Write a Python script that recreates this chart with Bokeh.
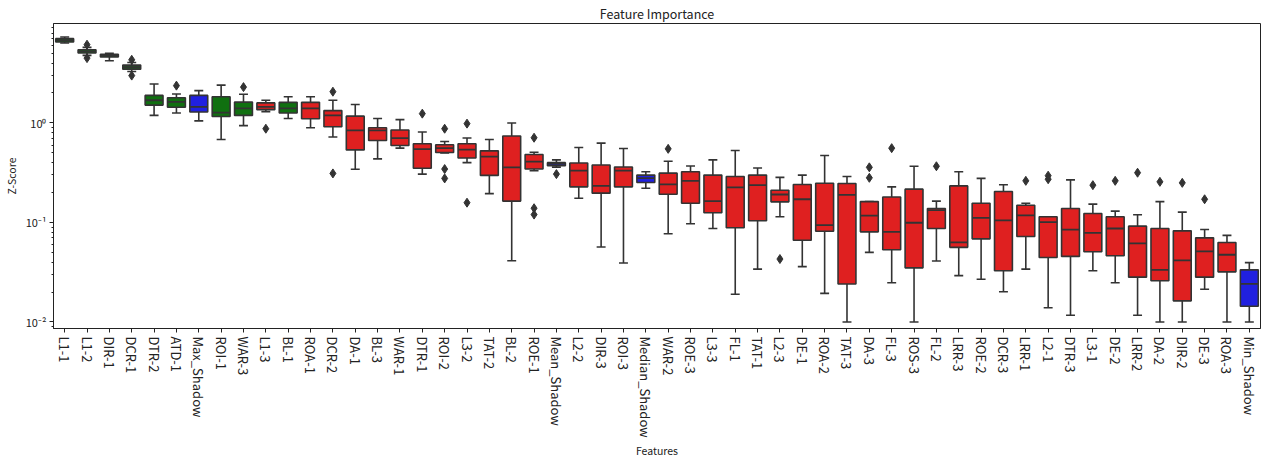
from bokeh.plotting import figure
from bokeh.models import FactorRange, Range1d, FixedTicker, ColumnDataSource, Title
from bokeh.embed import file_html
from bokeh.resources import INLINE

features = ["L1-1", "L1-2", "DIR-1", "DCR-1", "DTR-2", "ATD-1", "Max_Shadow", "ROI-1", "WAR-3",
            "L1-3", "BL-1", "ROA-1", "DCR-2", "DA-1", "BL-3", "WAR-1", "DTR-1", "ROI-2", "L3-2",
            "TAT-2", "BL-2", "ROE-1", "Mean_Shadow", "L2-2", "DIR-3", "ROI-3", "Median_Shadow",
            "WAR-2", "ROE-3", "L3-3", "FL-1", "TAT-1", "L2-3", "DE-1", "ROA-2", "TAT-3", "DA-3",
            "FL-3", "ROS-3", "FL-2", "LRR-3", "ROE-2", "DCR-3", "LRR-1", "L2-1", "DTR-3", "L3-1",
            "DE-2", "LRR-2", "DA-2", "DIR-2", "DE-3", "ROA-3", "Min_Shadow"]

status = ["confirmed"] * 6 + ["shadow", "confirmed", "confirmed", "rejected", "confirmed"] + \
         ["rejected"] * 11 + ["shadow", "rejected", "rejected", "rejected", "shadow"] + \
         ["rejected"] * 26 + ["shadow"]

lower_whisker = [6.36, 4.77, 4.21, 3.29, 1.19, 1.26, 1.05, 0.682, 0.94, 1.30, 1.11, 0.896, 0.721,
                 0.342, 0.435, 0.558, 0.306, 0.50, 0.399, 0.195, 0.0412, 0.331, 0.36, 0.175, 0.0567,
                 0.0391, 0.221, 0.0769, 0.097, 0.087, 0.019, 0.034, 0.114, 0.036, 0.0194, 0.010,
                 0.050, 0.0248, 0.010, 0.041, 0.0292, 0.0269, 0.0201, 0.034, 0.0139, 0.0117, 0.0327,
                 0.0248, 0.0117, 0.010, 0.010, 0.0213, 0.010, 0.010]
q1 = [6.51, 5.04, 4.59, 3.47, 1.51, 1.44, 1.29, 1.16, 1.19, 1.36, 1.26, 1.10, 0.917,
      0.536, 0.667, 0.593, 0.350, 0.504, 0.445, 0.297, 0.164, 0.344, 0.372, 0.228, 0.197,
      0.228, 0.252, 0.192, 0.156, 0.125, 0.0884, 0.104, 0.161, 0.0662, 0.0817, 0.0241,
      0.0805, 0.0532, 0.035, 0.087, 0.0562, 0.0684, 0.0327, 0.0722, 0.0445, 0.0456, 0.0508,
      0.0463, 0.0282, 0.026, 0.0163, 0.0282, 0.0319, 0.0144]
median = [6.77, 5.24, 4.73, 3.63, 1.69, 1.63, 1.45, 1.27, 1.40, 1.45, 1.40, 1.40, 1.19,
          0.842, 0.842, 0.705, 0.545, 0.558, 0.540, 0.459, 0.358, 0.408, 0.387, 0.331, 0.233,
          0.331, 0.279, 0.241, 0.262, 0.164, 0.225, 0.237, 0.191, 0.171, 0.094, 0.189,
          0.117, 0.0805, 0.0993, 0.133, 0.063, 0.111, 0.105, 0.118, 0.1007, 0.0849, 0.0787,
          0.087, 0.0617, 0.0334, 0.0415, 0.0512, 0.0474, 0.0241]
q3 = [7.03, 5.44, 4.89, 3.81, 1.89, 1.79, 1.89, 1.83, 1.62, 1.59, 1.61, 1.61, 1.33,
      1.17, 0.896, 0.85, 0.617, 0.603, 0.617, 0.524, 0.738, 0.481, 0.399, 0.396, 0.378,
      0.361, 0.299, 0.313, 0.323, 0.299, 0.290, 0.299, 0.211, 0.241, 0.248, 0.246,
      0.162, 0.180, 0.216, 0.138, 0.233, 0.156, 0.205, 0.149, 0.114, 0.138, 0.123,
      0.114, 0.0918, 0.087, 0.0824, 0.070, 0.063, 0.0334]
upper_whisker = [7.31, 5.75, 5.0, 4.05, 2.46, 1.95, 2.11, 2.40, 1.94, 1.69, 1.83, 1.83, 1.69,
                 1.53, 1.11, 1.08, 0.811, 0.651, 0.705, 0.682, 1.0, 0.508, 0.425, 0.566, 0.627,
                 0.553, 0.323, 0.412, 0.369, 0.425, 0.528, 0.352, 0.284, 0.299, 0.470, 0.290,
                 0.162, 0.228, 0.367, 0.164, 0.323, 0.277, 0.239, 0.156, 0.114, 0.268, 0.153,
                 0.130, 0.1195, 0.162, 0.127, 0.0849, 0.0742, 0.0395]

outlier_feature = ["L1-2", "L1-2", "DCR-1", "DCR-1", "ATD-1", "WAR-3", "L1-3", "DCR-2", "DCR-2",
                   "DTR-1", "ROI-2", "ROI-2", "ROI-2", "L3-2", "L3-2", "ROE-1", "ROE-1", "ROE-1",
                   "Mean_Shadow", "WAR-2", "L2-3", "DA-3", "DA-3", "FL-3", "FL-2", "LRR-1",
                   "L2-1", "L2-1", "L3-1", "DE-2", "LRR-2", "DA-2", "DIR-2", "DE-3"]
outlier_value = [6.11, 4.48, 4.31, 2.99, 2.37, 2.29, 0.875, 2.06, 0.311,
                 1.24, 0.875, 0.344, 0.277, 0.984, 0.158, 0.710, 0.139, 0.120,
                 0.306, 0.549, 0.0429, 0.358, 0.281, 0.558, 0.367, 0.262,
                 0.295, 0.272, 0.237, 0.262, 0.316, 0.256, 0.250, 0.171]

palette = {"confirmed": "#107010", "rejected": "#DF2020", "shadow": "#2020DF"}
gray = "#333333"
FONT = "Noto Sans CJK KR"

colors = [palette[s] for s in status]

p = figure(width=1263, height=457, x_range=FactorRange(*features),
           y_axis_type="log", y_range=Range1d(0.0086, 9.98),
           output_backend="svg", toolbar_location=None, title="Feature Importance",
           min_border_left=49, min_border_right=3, min_border_top=18, min_border_bottom=20)

src = ColumnDataSource(dict(
    x=features,
    xl=[(f, -0.2) for f in features], xr=[(f, 0.2) for f in features],
    xbl=[(f, -0.4) for f in features], xbr=[(f, 0.4) for f in features],
    lo=lower_whisker, q1=q1, med=median, q3=q3, hi=upper_whisker, color=colors))

p.segment(x0="x", y0="q3", x1="x", y1="hi", source=src, line_color=gray, line_width=1.6)
p.segment(x0="x", y0="q1", x1="x", y1="lo", source=src, line_color=gray, line_width=1.6)
p.segment(x0="xl", y0="hi", x1="xr", y1="hi", source=src, line_color=gray, line_width=1.6)
p.segment(x0="xl", y0="lo", x1="xr", y1="lo", source=src, line_color=gray, line_width=1.6)
p.vbar(x="x", width=0.8, bottom="q1", top="q3", source=src, fill_color="color",
       line_color=gray, line_width=1.6)
p.segment(x0="xbl", y0="med", x1="xbr", y1="med", source=src, line_color=gray, line_width=1.8)
p.scatter(x=outlier_feature, y=outlier_value, marker="diamond", size=9,
          fill_color=gray, line_color=gray)

p.xgrid.visible = False
p.ygrid.visible = False
p.outline_line_color = "#222222"
p.outline_line_width = 1

p.title.align = "center"
p.title.text_font = FONT
p.title.text_font_size = "12.5px"
p.title.text_font_style = "normal"
p.title.text_color = "#222222"
p.title.standoff = 2

p.yaxis.ticker = FixedTicker(ticks=[0.01, 0.1, 1.0],
                             minor_ticks=[k * 10.0 ** e for e in (-3, -2, -1, 0) for k in range(2, 10)])
p.yaxis.major_label_overrides = {0.01: "10⁻²", 0.1: "10⁻¹", 1.0: "10⁰"}
p.yaxis.axis_label = "Z-Score"

for ax in (p.xaxis[0], p.yaxis[0]):
    ax.axis_line_color = "#222222"
    ax.major_tick_line_color = "#222222"
    ax.minor_tick_line_color = "#222222"
    ax.major_tick_in = 0
    ax.major_tick_out = 4
    ax.minor_tick_in = 0
    ax.minor_tick_out = 2
    ax.major_label_text_font = FONT
    ax.major_label_text_color = "#222222"
    ax.axis_label_text_font = FONT
    ax.axis_label_text_font_style = "normal"
    ax.axis_label_text_font_size = "10.5px"
    ax.axis_label_text_color = "#222222"
    ax.axis_label_standoff = 4
    ax.major_label_standoff = 3

p.xaxis.major_label_standoff = 4
p.yaxis.major_label_text_font_size = "11px"
p.xaxis.major_label_text_font_size = "13px"
p.xaxis.major_label_orientation = "vertical"

p.add_layout(Title(text="Features", align="center", standoff=0, offset=0,
                   text_font=FONT, text_font_size="10.5px", text_font_style="normal",
                   text_color="#222222"), "below")

open("out.html", "w").write(file_html(p, INLINE))
